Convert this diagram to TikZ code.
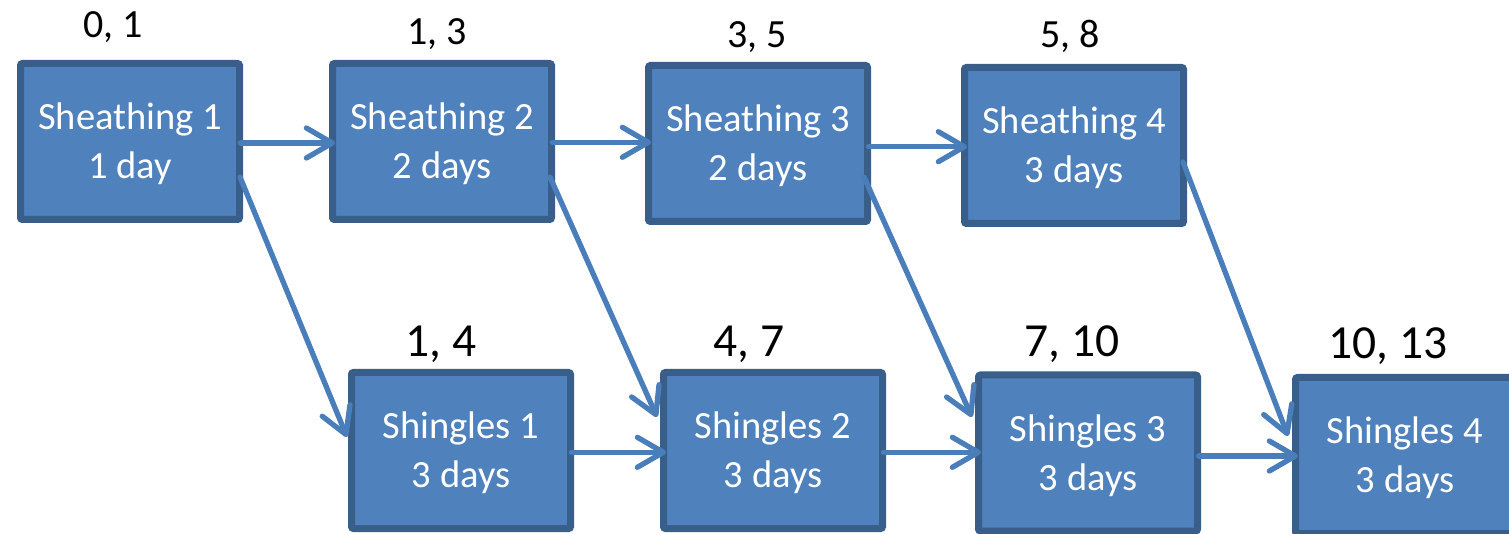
\documentclass[tikz,border=0pt]{standalone}
\usepackage{fontspec}
\setmainfont{Carlito}
\usetikzlibrary{arrows.meta,calc}
\definecolor{boxfill}{HTML}{4F81BD}
\definecolor{boxedge}{HTML}{3A5E8A}
\definecolor{linkcol}{HTML}{4A7EBB}
\begin{document}
\begin{tikzpicture}[x=1pt,y=1pt,
  task/.style={draw=boxedge, fill=boxfill, line width=7pt, rounded corners=2pt,
    minimum width=219pt, minimum height=156pt, inner sep=0pt, outer sep=0pt},
  tasktext/.style={text=white, align=center, inner sep=0pt,
    font=\fontsize{38.5}{49}\selectfont},
  toplbl/.style={anchor=base, font=\fontsize{40}{48}\selectfont},
  botlbl/.style={anchor=base, font=\fontsize{47.5}{56}\selectfont},
  link/.style={draw=linkcol, line width=5.3pt, line cap=round,
    -{Straight Barb[length=26pt, width=30pt, line cap=round, line join=round]}}]
\useasboundingbox (0,0) rectangle (1509,533);
\clip (0,0) rectangle (1509,533);

% sheathing row
\node[task] (S1) at (130,391.5)  {};
\node[task] (S2) at (442,391.5)  {};
\node[task] (S3) at (758,389.5)  {};
\node[task] (S4) at (1074,387.5) {};
\node[tasktext] (S1t) at ([yshift=-2.5pt]S1.center) {Sheathing 1\\1 day};
\node[tasktext] (S2t) at ([yshift=-2.5pt]S2.center) {Sheathing 2\\2 days};
\node[tasktext] (S3t) at ([yshift=-2.5pt]S3.center) {Sheathing 3\\2 days};
\node[tasktext] (S4t) at ([yshift=-2.5pt]S4.center) {Sheathing 4\\3 days};

% shingles row
\node[task] (H1) at (461,82.5)   {};
\node[task] (H2) at (773,82.5)   {};
\node[task] (H3) at (1088,80)    {};
\node[task] (H4) at (1405,77.5)  {};
\node[tasktext] (H1t) at ([yshift=-2.5pt]H1.center) {Shingles 1\\3 days};
\node[tasktext] (H2t) at ([yshift=-2.5pt]H2.center) {Shingles 2\\3 days};
\node[tasktext] (H3t) at ([yshift=-2.5pt]H3.center) {Shingles 3\\3 days};
\node[tasktext] (H4t) at ([yshift=-2.5pt]H4.center) {Shingles 4\\3 days};

% early start, early finish
\node[toplbl] (L1) at (113,495) {0, 1};
\node[toplbl] (L2) at (437,488) {1, 3};
\node[toplbl] (L3) at (757,485) {3, 5};
\node[toplbl] (L4) at (1070,485) {5, 8};
\node[botlbl] (M1) at (441,176) {1, 4};
\node[botlbl] (M2) at (749,176) {4, 7};
\node[botlbl] (M3) at (1072,176) {7, 10};
\node[botlbl] (M4) at (1388,175) {10, 13};

% precedence links
\draw[link] ([xshift=1pt,yshift=-1.5pt]S1.east) -- ([xshift=2.5pt,yshift=-1.5pt]S2.west);
\draw[link] ([xshift=1pt,yshift=-0.8pt]S2.east) -- ([xshift=2.5pt,yshift=1.2pt]S3.west);
\draw[link] ([xshift=1pt,yshift=-3.2pt]S3.east) -- ([xshift=2.5pt,yshift=-1.2pt]S4.west);
\draw[link] ([xshift=1pt,yshift=-1.8pt]H1.east) -- ([xshift=2.5pt,yshift=-1.8pt]H2.west);
\draw[link] ([xshift=1pt,yshift=-1.8pt]H2.east) -- ([xshift=2.5pt,yshift=0.7pt]H3.west);
\draw[link] ([xshift=1pt,yshift=-3pt]H3.east) -- ([xshift=2.5pt,yshift=-0.5pt]H4.west);

\draw[link] ([xshift=0.5pt,yshift=-35.5pt]S1.east) -- ([xshift=-4.5pt,yshift=13.5pt]H1.west);
\draw[link] ([xshift=-1.5pt,yshift=-35.5pt]S2.east) -- ([xshift=-6.5pt,yshift=33.5pt]H2.west);
\draw[link] ([xshift=-3.5pt,yshift=-33.5pt]S3.east) -- ([xshift=-6.5pt,yshift=36pt]H3.west);
\draw[link] ([xshift=-0.5pt,yshift=-16.5pt]S4.east) -- ([xshift=-7.5pt,yshift=19.5pt]H4.west);
\end{tikzpicture}
\end{document}
